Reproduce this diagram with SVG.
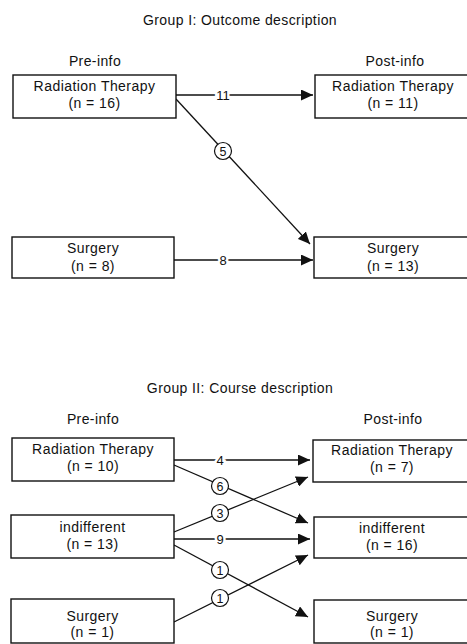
<svg xmlns="http://www.w3.org/2000/svg" width="467" height="644" viewBox="0 0 467 644">
  <style>
    .box { fill: #fff; stroke: #111; stroke-width: 1.4; }
    .t { font-family: "Liberation Sans", Arial, sans-serif; font-size: 14px; fill: #111; text-anchor: middle; letter-spacing: 0.45px; }
    .h { font-family: "Liberation Sans", Arial, sans-serif; font-size: 14px; fill: #111; text-anchor: middle; letter-spacing: 0.4px; }
    .edge { stroke: #111; stroke-width: 1.3; fill: none; marker-end: url(#arrow); }
    .lbl { font-family: "Liberation Sans", Arial, sans-serif; font-size: 13px; fill: #111; text-anchor: middle; paint-order: stroke; stroke: #fff; stroke-width: 5px; }
    .ring { fill: #fff; stroke: #111; stroke-width: 1.2; }
    .num { font-family: "Liberation Sans", Arial, sans-serif; font-size: 12.5px; fill: #111; text-anchor: middle; }
  </style>
  <defs>
    <marker id="arrow" markerUnits="userSpaceOnUse" markerWidth="13" markerHeight="11" refX="12" refY="5.5" orient="auto">
      <path d="M0,0 L12,5.5 L0,11 Z" fill="#111"/>
    </marker>
  </defs>
  <rect width="467" height="644" fill="#fff"/>

  <!-- Group I headings -->
  <text class="h" x="240" y="25">Group I: Outcome description</text>
  <text class="h" x="95" y="66">Pre-info</text>
  <text class="h" x="395" y="66">Post-info</text>

  <!-- Group I connectors -->
  <g id="edges-g1">
    <path class="edge" d="M176,95 H313"/>
    <text class="lbl" x="223" y="100">11</text>
    <path class="edge" d="M176,99 L310,244"/>
    <circle class="ring" cx="223" cy="151" r="8.5"/>
    <text class="num" x="223" y="155.5">5</text>
    <path class="edge" d="M174,260 H313"/>
    <text class="lbl" x="223" y="265">8</text>
  </g>

  <!-- Group I nodes -->
  <g id="g1-pre-rt">
    <rect class="box" x="13" y="75" width="163" height="43"/>
    <text class="t" x="94.5" y="91">Radiation Therapy</text>
    <text class="t" x="94.5" y="108">(n = 16)</text>
  </g>
  <g id="g1-post-rt">
    <rect class="box" x="315" y="75" width="156" height="43"/>
    <text class="t" x="393" y="91">Radiation Therapy</text>
    <text class="t" x="393" y="108">(n = 11)</text>
  </g>
  <g id="g1-pre-surg">
    <rect class="box" x="12" y="237" width="162" height="41"/>
    <text class="t" x="93" y="253">Surgery</text>
    <text class="t" x="93" y="271">(n = 8)</text>
  </g>
  <g id="g1-post-surg">
    <rect class="box" x="314" y="237" width="157" height="41"/>
    <text class="t" x="393" y="253">Surgery</text>
    <text class="t" x="393" y="271">(n = 13)</text>
  </g>

  <!-- Group II headings -->
  <text class="h" x="240" y="393">Group II: Course description</text>
  <text class="h" x="93" y="424">Pre-info</text>
  <text class="h" x="393" y="424">Post-info</text>

  <!-- Group II connectors -->
  <g id="edges-g2">
    <path class="edge" d="M174,460 H310"/>
    <text class="lbl" x="220" y="465">4</text>
    <path class="edge" d="M174,465 L308,523"/>
    <path class="edge" d="M174,532 L308,477"/>
    <path class="edge" d="M174,539 H310"/>
    <text class="lbl" x="220" y="544">9</text>
    <path class="edge" d="M174,545 L308,617"/>
    <path class="edge" d="M174,622 L308,555"/>
    <circle class="ring" cx="220" cy="486" r="8.5"/>
    <text class="num" x="220" y="490.5">6</text>
    <circle class="ring" cx="220" cy="513" r="8.5"/>
    <text class="num" x="220" y="517.5">3</text>
    <circle class="ring" cx="220" cy="570" r="8.5"/>
    <text class="num" x="220" y="574.5">1</text>
    <circle class="ring" cx="220" cy="598" r="8.5"/>
    <text class="num" x="220" y="602.5">1</text>
  </g>

  <!-- Group II nodes -->
  <g id="g2-pre-rt">
    <rect class="box" x="12" y="438" width="162" height="43"/>
    <text class="t" x="93" y="454">Radiation Therapy</text>
    <text class="t" x="93" y="471">(n = 10)</text>
  </g>
  <g id="g2-post-rt">
    <rect class="box" x="313" y="440" width="158" height="42"/>
    <text class="t" x="392" y="455">Radiation Therapy</text>
    <text class="t" x="392" y="472">(n = 7)</text>
  </g>
  <g id="g2-pre-indiff">
    <rect class="box" x="11" y="515" width="163" height="43"/>
    <text class="t" x="92.5" y="532">indifferent</text>
    <text class="t" x="92.5" y="549">(n = 13)</text>
  </g>
  <g id="g2-post-indiff">
    <rect class="box" x="314" y="517" width="157" height="41"/>
    <text class="t" x="392" y="533">indifferent</text>
    <text class="t" x="392" y="550">(n = 16)</text>
  </g>
  <g id="g2-pre-surg">
    <rect class="box" x="11" y="599" width="163" height="44"/>
    <text class="t" x="92.5" y="621">Surgery</text>
    <text class="t" x="92.5" y="637">(n = 1)</text>
  </g>
  <g id="g2-post-surg">
    <rect class="box" x="314" y="600" width="157" height="43"/>
    <text class="t" x="392" y="621">Surgery</text>
    <text class="t" x="392" y="637">(n = 1)</text>
  </g>
</svg>
